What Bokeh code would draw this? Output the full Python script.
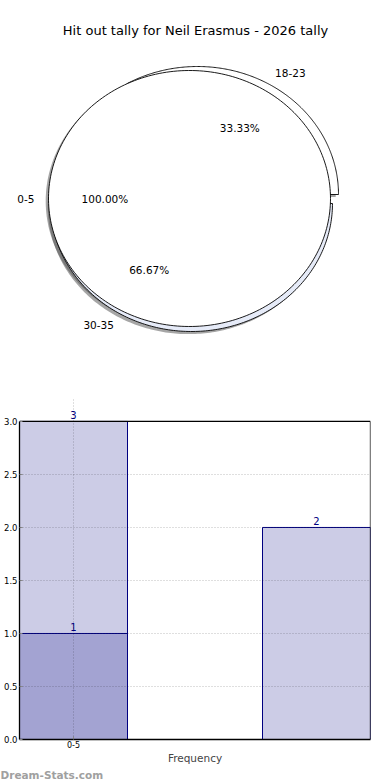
import numpy as np
from bokeh.plotting import figure
from bokeh.models import (Range1d, FixedTicker, LabelSet, ColumnDataSource,
                          PrintfTickFormatter, Title)
from bokeh.core.properties import value
from bokeh.embed import file_html
from bokeh.resources import INLINE

# ---------------- data ----------------
TITLE = "Hit out tally for Neil Erasmus - 2026 tally"
WATERMARK = "Dream-Stats.com"
pie_a_labels = ["0-5"]
pie_a_values = [1]
pie_b_labels = ["18-23", "30-35"]
pie_b_values = [1, 2]

bar_positions = [0.0, 0.0, 2.25]
bar_heights = [1, 3, 2]
x_tick_positions = [0.0]
x_tick_labels = ["0-5"]
y_ticks = [0.0, 0.5, 1.0, 1.5, 2.0, 2.5, 3.0]
y_max = 3.0
x_min, x_max = -0.5, 2.75

# ---------------- style / layout ----------------
FONT = value("DejaVu Sans")
W = 374
PIE_H = 340
BAR_H = 440
BL, BR = 19, 4
SX, SY = 141.0, 128.0          # px per unit radius
PCX, PCY = 189.0, 198.0        # pie centre, page px
explode_px_a = [(0, 0)]
explode_px_b = [(8, -4), (2, 5)]
fill_a = ["#ffffff"]
fill_b = ["#ffffff", "#e6ebf8"]
shadow_px = (-2.8, 2.6)

x0 = -PCX / SX
x1 = x0 + W / SX
y1 = PCY / SY
y0 = y1 - PIE_H / SY

pie = figure(width=W, height=PIE_H, x_range=Range1d(x0, x1), y_range=Range1d(y0, y1),
             x_axis_type=None, y_axis_type=None, toolbar_location=None,
             output_backend="svg", min_border=0, outline_line_color=None)
pie.grid.visible = False


def wedge_shapes(values, explode_px):
    vals = np.asarray(values, dtype=float)
    fr = vals / vals.sum()
    starts = np.concatenate([[0.0], np.cumsum(fr)[:-1]]) * 360.0
    ends = starts + fr * 360.0
    out = []
    for a0, a1, (ex, ey), f in zip(starts, ends, explode_px, fr):
        th = np.radians(np.linspace(a0, a1, 240))
        dx, dy = ex / SX, -ey / SY
        if f >= 0.9999:
            xs = list(np.cos(th) + dx)
            ys = list(np.sin(th) + dy)
        else:
            xs = [dx] + list(np.cos(th) + dx) + [dx]
            ys = [dy] + list(np.sin(th) + dy) + [dy]
        mid = np.radians((a0 + a1) / 2.0)
        out.append(dict(xs=xs, ys=ys, mid=mid, dx=dx, dy=dy, frac=f))
    return out


shapes_a = wedge_shapes(pie_a_values, explode_px_a)
shapes_b = wedge_shapes(pie_b_values, explode_px_b)

sdx, sdy = shadow_px[0] / SX, -shadow_px[1] / SY
all_shapes = shapes_b + shapes_a
pie.patches(xs=[[x + sdx for x in s["xs"]] for s in all_shapes],
            ys=[[y + sdy for y in s["ys"]] for s in all_shapes],
            fill_color="#4d4d4d", fill_alpha=0.5, line_color=None)
pie.patches(xs=[s["xs"] for s in shapes_b], ys=[s["ys"] for s in shapes_b],
            fill_color=fill_b, line_color="black", line_width=0.9)
pie.patches(xs=[s["xs"] for s in shapes_a], ys=[s["ys"] for s in shapes_a],
            fill_color=fill_a, line_color="black", line_width=0.9)

labels_all = pie_b_labels + pie_a_labels
lx, ly, la, px, py, pt = [], [], [], [], [], []
for s, lab in zip(all_shapes, labels_all):
    c, sn = np.cos(s["mid"]), np.sin(s["mid"])
    lx.append(1.1 * c + s["dx"])
    ly.append(1.1 * sn + s["dy"])
    la.append("left" if c > 0 else "right")
    px.append(0.6 * c + s["dx"])
    py.append(0.6 * sn + s["dy"])
    pt.append("%.2f%%" % (s["frac"] * 100))

pie.text(x=lx, y=ly, text=labels_all, text_align=la, text_baseline="middle",
         text_font=FONT, text_font_size="10.5px", text_color="black")
pie.text(x=px, y=py, text=pt, text_align="center", text_baseline="middle",
         text_font=FONT, text_font_size="10.5px", text_color="black")
pie.text(x=[6.0 / SX], y=[y1 - 30.0 / SY], text=[TITLE], text_align="center",
         text_baseline="middle", text_font=FONT, text_font_size="13px", text_color="black")

# ---------------- bar chart ----------------
FRAME_TOP_PAGE, FRAME_BOTTOM_PAGE = 421.0, 740.0
ypx = (FRAME_BOTTOM_PAGE - FRAME_TOP_PAGE) / y_max
EXTRA = 22.0                                   # room above the top for the value label
BT = int(round(FRAME_TOP_PAGE - EXTRA - PIE_H))
BB = int(round(PIE_H + BAR_H - FRAME_BOTTOM_PAGE))
y_top = y_max + EXTRA / ypx

bar = figure(width=W, height=BAR_H, x_range=Range1d(x_min, x_max), y_range=Range1d(0, y_top),
             toolbar_location=None, output_backend="svg",
             min_border_top=BT, min_border_bottom=BB, min_border_left=BL, min_border_right=BR,
             outline_line_color=None)
bar.vbar(x=bar_positions, top=bar_heights, width=1.0, bottom=0,
         fill_color="navy", fill_alpha=0.2, line_color="navy", line_width=1)

# frame border at the top and right of the data area
bar.segment(x0=[x_min, x_max], y0=[y_max, 0], x1=[x_max, x_max], y1=[y_max, y_max],
            line_color="black", line_width=1.3)

src = ColumnDataSource(dict(x=bar_positions, y=bar_heights, t=[str(h) for h in bar_heights]))
bar.add_layout(LabelSet(x="x", y="y", text="t", source=src, text_align="center",
                        text_baseline="bottom", y_offset=2, text_color="navy",
                        text_font=FONT, text_font_size="10px"))

bar.xaxis.ticker = FixedTicker(ticks=x_tick_positions)
bar.xaxis.major_label_overrides = {p: l for p, l in zip(x_tick_positions, x_tick_labels)}
bar.yaxis.ticker = FixedTicker(ticks=y_ticks)
bar.yaxis.formatter = PrintfTickFormatter(format="%.1f")
bar.yaxis.bounds = (0, y_max)
bar.xgrid.ticker = FixedTicker(ticks=x_tick_positions)
bar.xgrid.bounds = (0, y_max)
for ax in (bar.xaxis, bar.yaxis):
    ax.major_label_text_font = "DejaVu Sans"
    ax.major_label_text_font_size = "8.5px"
    ax.major_label_text_color = "black"
    ax.axis_line_color = "black"
    ax.axis_line_width = 1.3
    ax.major_tick_in = 3
    ax.major_tick_out = 0
    ax.major_tick_line_color = "#888888"
    ax.minor_tick_line_color = None
    ax.major_label_standoff = 2
bar.xaxis.major_label_text_font_size = "8px"
bar.xaxis.major_label_standoff = 1
bar.xaxis.axis_label = "Frequency"
bar.xaxis.axis_label_text_font = "DejaVu Sans"
bar.xaxis.axis_label_text_font_size = "10.5px"
bar.xaxis.axis_label_text_font_style = "normal"
bar.xaxis.axis_label_standoff = 1

for g in (bar.xgrid, bar.ygrid):
    g.grid_line_color = "black"
    g.grid_line_alpha = 0.25
    g.grid_line_dash = "1 2"
    g.level = "overlay"

bar.add_layout(Title(text=WATERMARK, align="left", offset=-BL, standoff=0,
                     text_font="DejaVu Sans", text_font_size="10.5px", text_font_style="bold",
                     text_color="#a0a0a0"), "below")

open("out.html", "w").write(file_html([pie, bar], INLINE))
